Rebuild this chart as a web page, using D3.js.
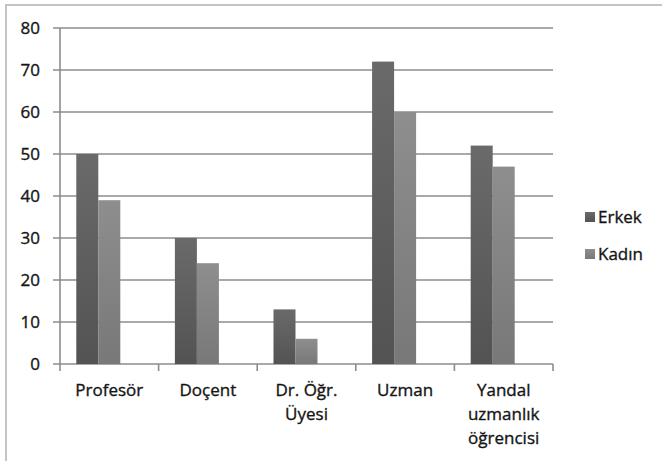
<!DOCTYPE html>
<html>
<head>
<meta charset="utf-8">
<script src="https://cdn.jsdelivr.net/npm/d3@7/dist/d3.min.js"></script>
<style>
  html, body { margin: 0; padding: 0; background: #fff; }
  svg { display: block; }
  text { font-family: "Open Sans", "Noto Sans", sans-serif; fill: #151515; stroke: #151515; stroke-width: 0.35px; }
</style>
</head>
<body>
<script>
const categories = [["Profesör"], ["Doçent"], ["Dr. Öğr.", "Üyesi"], ["Uzman"], ["Yandal", "uzmanlık", "öğrencisi"]];
const seriesNames = ["Erkek", "Kadın"];
const erkekValues = [50, 30, 13, 72, 52];
const kadinValues = [39, 24, 6, 60, 47];
const yTicks = [0, 10, 20, 30, 40, 50, 60, 70, 80];
const seriesColors = { "Erkek": ["#6a6a6a", "#535353"], "Kadın": ["#8e8e8e", "#787878"] };

(function () {
const W = 662, H = 461;
const svg = d3.select("body").append("svg").attr("width", W).attr("height", H);

// outer frame
svg.append("rect").attr("x", 6).attr("y", 5).attr("width", W + 10).attr("height", H + 10)
  .attr("fill", "none").attr("stroke", "#c4c4c4").attr("stroke-width", 2);

const pLeft = 60, pRight = 553, pTop = 28, pBottom = 364;
const keys = categories.map(c => c.join(" "));
const x0 = d3.scaleBand().domain(keys).range([pLeft, pRight]).paddingInner(0).paddingOuter(0);
// Excel-style slots: two series plus an empty third slot
const x1 = d3.scaleBand().domain(seriesNames.concat(["_"])).range([0, x0.bandwidth()]).paddingInner(0).paddingOuter(0.74);
const y = d3.scaleLinear().domain([0, 80]).range([pBottom, pTop]);

const defs = svg.append("defs");
seriesNames.forEach((s, i) => {
  const g = defs.append("linearGradient").attr("id", "g" + i).attr("x1", 0).attr("y1", 0).attr("x2", 0).attr("y2", 1);
  g.append("stop").attr("offset", "0%").attr("stop-color", seriesColors[s][0]);
  g.append("stop").attr("offset", "100%").attr("stop-color", seriesColors[s][1]);
});

// gridlines
svg.append("g").selectAll("line").data(yTicks).join("line")
  .attr("x1", pLeft - 7).attr("x2", pRight)
  .attr("y1", d => y(d)).attr("y2", d => y(d))
  .attr("stroke", "#8c8c8c").attr("stroke-width", 1.6);

// y axis line
svg.append("line").attr("x1", pLeft).attr("x2", pLeft).attr("y1", pTop).attr("y2", pBottom)
  .attr("stroke", "#8c8c8c").attr("stroke-width", 1.6);

// y labels
svg.append("g").selectAll("text").data(yTicks).join("text")
  .attr("x", 40).attr("y", d => y(d)).attr("dy", "0.36em")
  .attr("text-anchor", "end").attr("font-size", 17).text(d => d);

// bars
const data = keys.map((k, i) => ({ key: k, vals: [erkekValues[i], kadinValues[i]] }));
const groups = svg.append("g").selectAll("g").data(data).join("g")
  .attr("transform", d => `translate(${x0(d.key)},0)`);
groups.selectAll("rect").data(d => d.vals.map((v, i) => ({ s: seriesNames[i], i, v }))).join("rect")
  .attr("x", d => x1(d.s)).attr("width", x1.bandwidth())
  .attr("y", d => y(d.v)).attr("height", d => y(0) - y(d.v))
  .attr("fill", d => `url(#g${d.i})`);

// x axis ticks
const tickXs = keys.map(k => x0(k)).concat([pRight]);
svg.append("g").selectAll("line").data(tickXs).join("line")
  .attr("x1", d => d).attr("x2", d => d).attr("y1", pBottom).attr("y2", pBottom + 7)
  .attr("stroke", "#8c8c8c").attr("stroke-width", 1.6);

// x labels
const xl = svg.append("g").selectAll("text").data(categories).join("text")
  .attr("text-anchor", "middle").attr("font-size", 17)
  .attr("transform", (d, i) => `translate(${x0(keys[i]) + x0.bandwidth() / 2},${pBottom + 32})`);
xl.selectAll("tspan").data(d => d).join("tspan")
  .attr("x", 0).attr("dy", (d, i) => i === 0 ? 0 : 24).text(d => d);

// legend
const leg = svg.append("g").selectAll("g").data(seriesNames).join("g")
  .attr("transform", (d, i) => `translate(585,${217 + i * 37})`);
leg.append("rect").attr("x", 0).attr("y", -5).attr("width", 10).attr("height", 10)
  .attr("fill", (d, i) => `url(#g${i})`);
leg.append("text").attr("x", 13).attr("y", 0).attr("dy", "0.36em").attr("font-size", 17).text(d => d);
})();
</script>
</body>
</html>
